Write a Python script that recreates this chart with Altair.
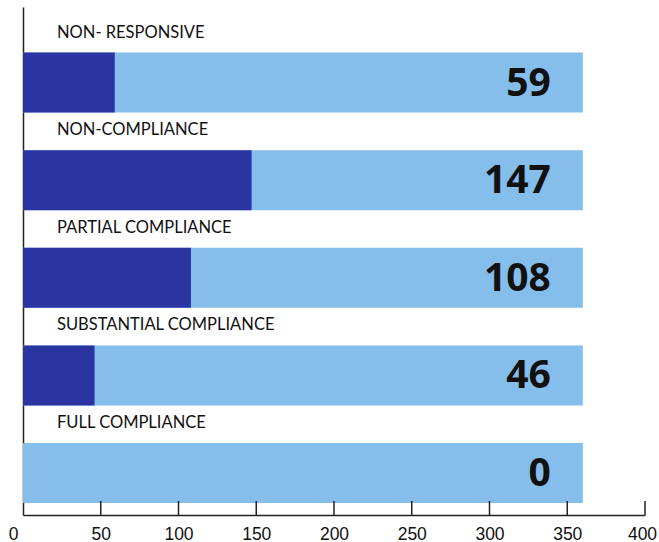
import altair as alt
import pandas as pd

categories = ["NON- RESPONSIVE", "NON-COMPLIANCE", "PARTIAL COMPLIANCE",
              "SUBSTANTIAL COMPLIANCE", "FULL COMPLIANCE"]
values = [59, 147, 108, 46, 0]
totals = [360, 360, 360, 360, 360]
axis_values = [0, 50, 100, 150, 200, 250, 300, 350, 400]
tick_values = [50, 100, 150, 200, 250, 300, 350, 400]

df = pd.DataFrame({"category": categories, "value": values, "total": totals})
ticks_df = pd.DataFrame({"t": tick_values})

W, H = 622, 508
DARK = "#2A35A2"
LIGHT = "#86BEEB"

xscale = alt.Scale(domain=[0, 400], nice=False, zero=True)
yscale = alt.Scale(domain=categories, paddingInner=0.3856, paddingOuter=0.294, align=0.793)

x_axis = alt.Axis(values=axis_values, ticks=False,
                  grid=False, domainColor="#222222", domainWidth=1.5,
                  labelFont="Liberation Sans", labelFontSize=17.5, labelColor="#111111",
                  labelPadding=10, labelFlush=False, title=None,
                  labelOffset={"condition": [{"test": "datum.value == 0", "value": -10},
                                             {"test": "datum.value == 400", "value": -3}],
                               "value": 0})
y_axis = alt.Axis(labels=False, ticks=False, grid=False, title=None,
                  domainColor="#222222", domainWidth=1.5)

base = alt.Chart(df)

bg = base.mark_bar(color=LIGHT).encode(
    x=alt.X("total:Q", scale=xscale, axis=x_axis),
    y=alt.Y("category:N", scale=yscale, sort=categories, axis=y_axis),
)
fg = base.mark_bar(color=DARK).encode(
    x=alt.X("value:Q", scale=xscale),
    y=alt.Y("category:N", scale=yscale, sort=categories),
)
cat_text = base.mark_text(align="left", baseline="alphabetic", dx=34, dy=-45,
                          font="Lato", fontSize=16.5, color="#111111").encode(
    x=alt.datum(0),
    y=alt.Y("category:N", scale=yscale, sort=categories),
    text="category:N",
)
num_text = base.mark_text(align="right", baseline="middle", dx=-32, dy=1,
                          font="Open Sans", fontWeight="bold", fontSize=39,
                          color="#111111").encode(
    x=alt.X("total:Q", scale=xscale),
    y=alt.Y("category:N", scale=yscale, sort=categories),
    text="value:Q",
)
tick_rules = alt.Chart(ticks_df).mark_rule(color="#222222", strokeWidth=1.5).encode(
    x=alt.X("t:Q", scale=xscale),
    y=alt.value(H),
    y2=alt.value(H - 14),
)

chart = alt.layer(bg, fg, cat_text, num_text, tick_rules).properties(
    width=W, height=H,
    autosize=alt.AutoSizeParams(type="none"),
    padding={"left": 23, "top": 7, "right": 14, "bottom": 27},
).configure(background="white", view=alt.ViewConfig(stroke=None))

chart.save("out.html", embed_options={"renderer": "svg", "actions": False})
